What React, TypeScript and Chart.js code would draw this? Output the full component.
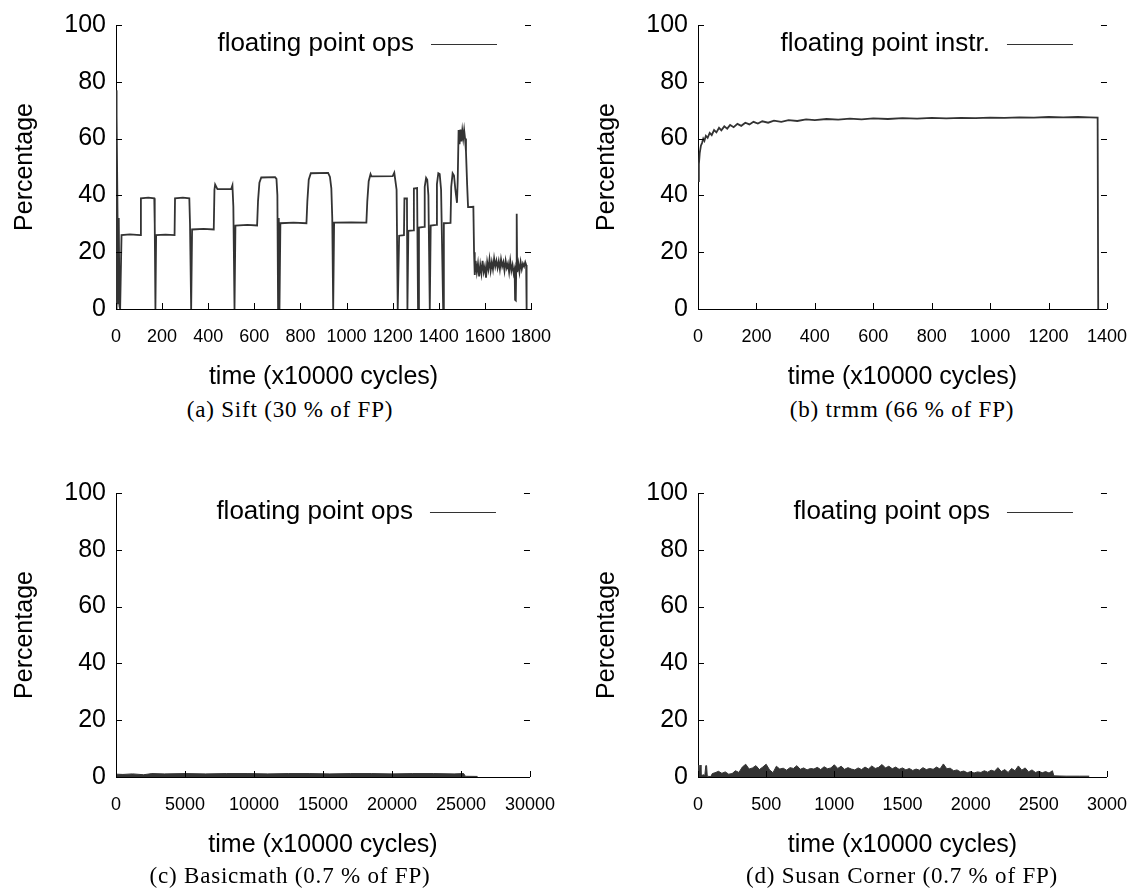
import React, { useEffect, useRef } from "react";
import { Chart, registerables } from "chart.js";

Chart.register(...registerables);

// ---------- data ----------
const percentTicks = [0, 20, 40, 60, 80, 100];

// (a) Sift
const siftTicks = [0, 200, 400, 600, 800, 1000, 1200, 1400, 1600, 1800];
const siftTime = [
  0, 1, 3, 4, 7, 9, 12, 15, 18, 24, 60, 106, 108, 140, 166, 168, 171, 174, 215, 254,
  256, 290, 318, 321, 326, 330, 380, 424, 427, 430, 440, 500, 505, 509, 514, 518, 570, 612, 616, 622,
  630, 690, 696, 700, 703, 706, 709, 713, 770, 826, 830, 836, 845, 920, 928, 934, 938, 942, 946, 1020,
  1086, 1090, 1096, 1104, 1108, 1200, 1207, 1212, 1217, 1222, 1228, 1249, 1251, 1262, 1264, 1268, 1289, 1292, 1306, 1310,
  1314, 1336, 1339, 1345, 1350, 1355, 1361, 1365, 1389, 1392, 1398, 1404, 1410, 1419, 1422, 1451, 1454, 1460, 1466, 1472,
  1479, 1482, 1486, 1490, 1494, 1498, 1502, 1506, 1510, 1514, 1518, 1523, 1527, 1550, 1553, 1556, 1560, 1565, 1570, 1575,
  1580, 1585, 1590, 1595, 1600, 1605, 1610, 1615, 1620, 1625, 1630, 1635, 1640, 1645, 1650, 1655, 1660, 1665, 1670, 1675,
  1680, 1685, 1690, 1695, 1700, 1705, 1710, 1715, 1720, 1725, 1729, 1731, 1734, 1736, 1738, 1740, 1745, 1750, 1755, 1760,
  1765, 1770, 1775, 1779, 1781, 1783,
];
const siftPct = [
  0, 77, 40, 68, 30, 2, 32, 1, 0, 26, 26.3, 26, 39, 39.2, 39, 30, 0, 26, 26.2, 26,
  39, 39.2, 39, 30, 0, 28, 28.2, 28, 42, 43.8, 42.2, 42.3, 43.5, 36, 0, 29.4, 29.6, 29.4, 38, 44.5,
  46.3, 46.4, 45.8, 40, 0, 32, 0, 30.2, 30.4, 30.2, 38, 45.5, 47.8, 47.9, 46.5, 42.5, 32, 0, 30.4, 30.5,
  30.4, 38, 45, 47.5, 46.7, 46.8, 48, 45, 42, 0, 25.8, 26, 38.9, 38.9, 0, 27.5, 27.7, 42.4, 42.6, 0,
  28.7, 28.9, 43, 46.2, 45.5, 40, 0, 29.4, 29.6, 44, 47.8, 47.5, 42, 0, 30.2, 30.3, 43, 47.8, 47, 42,
  37.4, 45, 63, 58, 63.2, 59, 62.8, 60, 63, 60, 55.4, 43.8, 35.9, 36, 20, 12, 17, 13, 16, 11.5,
  15.5, 12.5, 17, 13, 15, 11, 16.5, 14, 17.5, 13.5, 16.5, 14, 17.8, 15, 17, 14.5, 16.8, 14, 17.5, 15,
  16.5, 13.5, 17, 14.5, 16, 13, 17, 13.5, 15.5, 12.5, 14, 3.2, 3, 15, 33.5, 13, 16, 13, 16.5, 14,
  16, 15, 16.5, 15.5, 0, 0,
];

// (b) trmm
const trmmTicks = [0, 200, 400, 600, 800, 1000, 1200, 1400];
const trmmTime = [
  0, 3, 6, 10, 14, 18, 22, 27, 33, 40, 47, 55, 63, 72, 80, 90, 100, 110, 122, 135,
  148, 162, 176, 190, 205, 220, 240, 260, 285, 310, 340, 370, 400, 440, 480, 520, 560, 600, 650, 700,
  750, 800, 850, 900, 950, 1000, 1050, 1100, 1150, 1200, 1250, 1300, 1340, 1368, 1370,
];
const trmmPct = [
  45, 51, 55, 57.5, 58.5, 60, 59.2, 61, 60.3, 62, 61.2, 63, 62.2, 63.8, 62.9, 64.3, 63.5, 64.8, 64, 65.2,
  64.5, 65.6, 65, 65.9, 65.3, 66.1, 65.6, 66.3, 65.9, 66.5, 66.2, 66.8, 66.5, 66.9, 66.7, 67, 66.8, 67.1, 66.9, 67.2,
  67, 67.3, 67.1, 67.3, 67.2, 67.4, 67.3, 67.5, 67.4, 67.6, 67.5, 67.6, 67.5, 67.4, 0,
];

// (c) Basicmath
const basicTicks = [0, 5000, 10000, 15000, 20000, 25000, 30000];
const basicTime = [
  0, 500, 1200, 2000, 2600, 3500, 5000, 6500, 8000, 9500, 11000, 12500, 14000, 15500, 17000, 18500,
  20000, 21500, 23000, 24500, 25200, 25300, 25400, 26200,
];
const basicPct = [
  1.0, 0.9, 1.1, 0.8, 1.2, 1.1, 1.2, 1.1, 1.2, 1.2, 1.1, 1.2, 1.2, 1.1, 1.2, 1.2,
  1.1, 1.2, 1.2, 1.1, 1.2, 0.3, 0.25, 0.2,
];

// (d) Susan Corner
const susanTicks = [0, 500, 1000, 1500, 2000, 2500, 3000];
const susanTime = [
  0, 5, 10, 15, 22, 30, 40, 50, 57, 63, 68, 80, 95, 105,
  125, 150, 175, 200, 225, 250, 275, 300, 325, 350, 375, 400, 425, 450, 475, 500,
  525, 550, 575, 600, 625, 650, 675, 700, 725, 750, 775, 800, 825, 850, 875, 900,
  925, 950, 975, 1000, 1025, 1050, 1075, 1100, 1125, 1150, 1175, 1200, 1225, 1250, 1275, 1300,
  1325, 1350, 1375, 1400, 1425, 1450, 1475, 1500, 1525, 1550, 1575, 1600, 1625, 1650, 1675, 1700,
  1725, 1750, 1775, 1800, 1825, 1850, 1875, 1900, 1925, 1950, 1975, 2000, 2025, 2050, 2075, 2100,
  2125, 2150, 2175, 2200, 2225, 2250, 2275, 2300, 2325, 2350, 2375, 2400, 2425, 2450, 2475, 2500,
  2525, 2550, 2575, 2600, 2610, 2700, 2800, 2870,
];
const susanPct = [
  0.5, 4.2, 1, 4.2, 0.8, 0.6, 0.8, 0.5, 4, 4, 0.3, 0.2, 0.2, 1.2,
  1.5, 2.0, 1.3, 1.8, 1.0, 1.2, 2.2, 1.6, 3.5, 4.5, 2.8, 3.2, 4.0, 2.6, 3.5, 4.5,
  2.5, 1.5, 3.8, 2.8, 3.1, 2.4, 3.3, 3.0, 4.0, 2.7, 3.2, 2.5, 3.0, 2.8, 3.4, 2.6,
  3.6, 2.9, 3.2, 4.3, 3.0, 3.8, 2.7, 3.3, 2.8, 2.5, 3.2, 2.6, 3.5, 2.8, 3.9, 3.0,
  3.4, 4.4, 3.2, 3.8, 2.9, 3.5, 2.7, 3.2, 2.5, 3.0, 2.3, 2.8, 2.4, 3.3, 2.6, 3.0,
  2.7, 3.5, 2.8, 4.6, 2.9, 3.1, 2.2, 2.5, 1.8, 2.1, 1.5, 1.9, 1.4, 1.8, 1.6, 2.2,
  1.7, 2.4, 2.0, 3.3, 1.9, 2.6, 1.6, 3.0, 2.2, 3.9, 2.4, 3.2, 1.8, 2.5, 1.6, 2.0,
  1.5, 1.9, 1.4, 2.2, 0.4, 0.3, 0.3, 0.3,
];

// ---------- styling ----------
const LINE = "#333333";
const SANS = '"Liberation Sans", Arial, Helvetica, sans-serif';
const SERIF = '"Liberation Serif", "Times New Roman", serif';

type PanelProps = {
  left: number;
  top: number;
  width: number;
  height: number;
  padRight: number;
  xs: number[];
  ys: number[];
  xTicks: number[];
  xMax: number;
  fill: boolean;
  lineWidth: number;
  legend: string;
};

function Panel(p: PanelProps) {
  const ref = useRef<HTMLCanvasElement | null>(null);

  useEffect(() => {
    if (!ref.current) return;
    const n = Math.min(p.xs.length, p.ys.length);
    const pts = [] as { x: number; y: number }[];
    for (let i = 0; i < n; i++) pts.push({ x: p.xs[i], y: p.ys[i] });

    const innerTicks = {
      id: "innerTicks",
      afterDraw(chart: any) {
        const { ctx, chartArea } = chart;
        const { left, right, bottom } = chartArea;
        const xs = chart.scales.x;
        const ys = chart.scales.y;
        ctx.save();
        ctx.strokeStyle = "#000";
        ctx.lineWidth = 1;
        ctx.beginPath();
        ys.ticks.forEach((t: any) => {
          const py = Math.round(ys.getPixelForValue(t.value)) + 0.5;
          ctx.moveTo(left, py);
          ctx.lineTo(left + 6, py);
          ctx.moveTo(right - 6, py);
          ctx.lineTo(right, py);
        });
        xs.ticks.forEach((t: any) => {
          const px = Math.round(xs.getPixelForValue(t.value)) + 0.5;
          ctx.moveTo(px, bottom);
          ctx.lineTo(px, bottom - 6);
        });
        ctx.stroke();
        ctx.restore();
      },
    };

    const keyPlugin = {
      id: "keyPlugin",
      afterDraw(chart: any) {
        const { ctx, chartArea } = chart;
        const cy = chartArea.top + 19;
        ctx.save();
        ctx.font = `26px ${SANS}`;
        ctx.fillStyle = "#000";
        ctx.textAlign = "right";
        ctx.textBaseline = "middle";
        ctx.fillText(p.legend, chartArea.right - 117, cy);
        ctx.strokeStyle = LINE;
        ctx.lineWidth = 1;
        ctx.beginPath();
        ctx.moveTo(chartArea.right - 100, Math.round(cy) + 0.5);
        ctx.lineTo(chartArea.right - 34, Math.round(cy) + 0.5);
        ctx.stroke();
        ctx.restore();
      },
    };

    const chart = new Chart(ref.current, {
      type: "line",
      data: {
        datasets: [
          {
            label: p.legend,
            data: pts,
            borderColor: LINE,
            backgroundColor: LINE,
            borderWidth: p.lineWidth,
            pointRadius: 0,
            tension: 0,
            fill: p.fill ? "origin" : false,
          },
        ],
      },
      options: {
        responsive: false,
        animation: false,
        devicePixelRatio: 1,
        layout: { padding: { left: 0, right: p.padRight, top: 22, bottom: 0 } },
        plugins: {
          legend: { display: false },
          tooltip: { enabled: false },
        },
        scales: {
          x: {
            type: "linear",
            min: 0,
            max: p.xMax,
            afterFit: (s: any) => {
              s.height = 86;
            },
            afterBuildTicks: (s: any) => {
              s.ticks = p.xTicks.map((v) => ({ value: v }));
            },
            ticks: {
              autoSkip: false,
              maxRotation: 0,
              minRotation: 0,
              padding: 17,
              color: "#000",
              font: { family: SANS, size: 18 },
              callback: (v: any) => String(v),
            },
            grid: { display: false, drawTicks: false },
            border: { display: true, color: "#000", width: 1 },
            title: {
              display: true,
              text: "time (x10000 cycles)",
              color: "#000",
              font: { family: SANS, size: 25 },
              padding: { top: 0, bottom: 3 },
            },
          },
          y: {
            type: "linear",
            min: 0,
            max: 100,
            afterFit: (s: any) => {
              s.width = 116;
            },
            afterBuildTicks: (s: any) => {
              s.ticks = percentTicks.map((v) => ({ value: v }));
            },
            ticks: {
              padding: 10,
              color: "#000",
              font: { family: SANS, size: 25 },
              callback: (v: any) => String(v),
            },
            grid: { display: false, drawTicks: false },
            border: { display: true, color: "#000", width: 1 },
            title: {
              display: true,
              text: "Percentage",
              color: "#000",
              font: { family: SANS, size: 25 },
              padding: { top: 10, bottom: 0 },
            },
          },
        },
      },
      plugins: [innerTicks, keyPlugin],
    } as any);
    return () => chart.destroy();
  }, []);

  return (
    <canvas
      ref={ref}
      width={p.width}
      height={p.height}
      style={{ position: "absolute", left: p.left, top: p.top, width: p.width, height: p.height }}
    />
  );
}

function Caption({ text, cx, cy }: { text: string; cx: number; cy: number }) {
  return (
    <div
      style={{
        position: "absolute",
        left: cx,
        top: cy - 14,
        transform: "translateX(-50%)",
        fontFamily: SERIF,
        fontSize: 23,
        lineHeight: "28px",
        letterSpacing: "0.8px",
        whiteSpace: "nowrap",
        color: "#000",
      }}
    >
      {text}
    </div>
  );
}

export default function App() {
  return (
    <div
      style={{
        position: "absolute",
        left: 0,
        top: 0,
        width: 1144,
        height: 895,
        background: "#fff",
        overflow: "hidden",
      }}
    >
      <Panel left={0} top={0} width={572} height={395} padRight={41} xs={siftTime} ys={siftPct}
        xTicks={siftTicks} xMax={1800} fill={false} lineWidth={1.8} legend="floating point ops" />
      <Panel left={582} top={0} width={562} height={395} padRight={31} xs={trmmTime} ys={trmmPct}
        xTicks={trmmTicks} xMax={1400} fill={false} lineWidth={1.8} legend="floating point instr." />
      <Panel left={0} top={468} width={572} height={395} padRight={41} xs={basicTime} ys={basicPct}
        xTicks={basicTicks} xMax={30000} fill={true} lineWidth={1} legend="floating point ops" />
      <Panel left={582} top={468} width={562} height={395} padRight={31} xs={susanTime} ys={susanPct}
        xTicks={susanTicks} xMax={3000} fill={true} lineWidth={1} legend="floating point ops" />
      <Caption text="(a) Sift (30 % of FP)" cx={290} cy={410} />
      <Caption text="(b) trmm (66 % of FP)" cx={902} cy={410} />
      <Caption text="(c) Basicmath (0.7 % of FP)" cx={290} cy={876} />
      <Caption text="(d) Susan Corner (0.7 % of FP)" cx={902} cy={876} />
    </div>
  );
}
